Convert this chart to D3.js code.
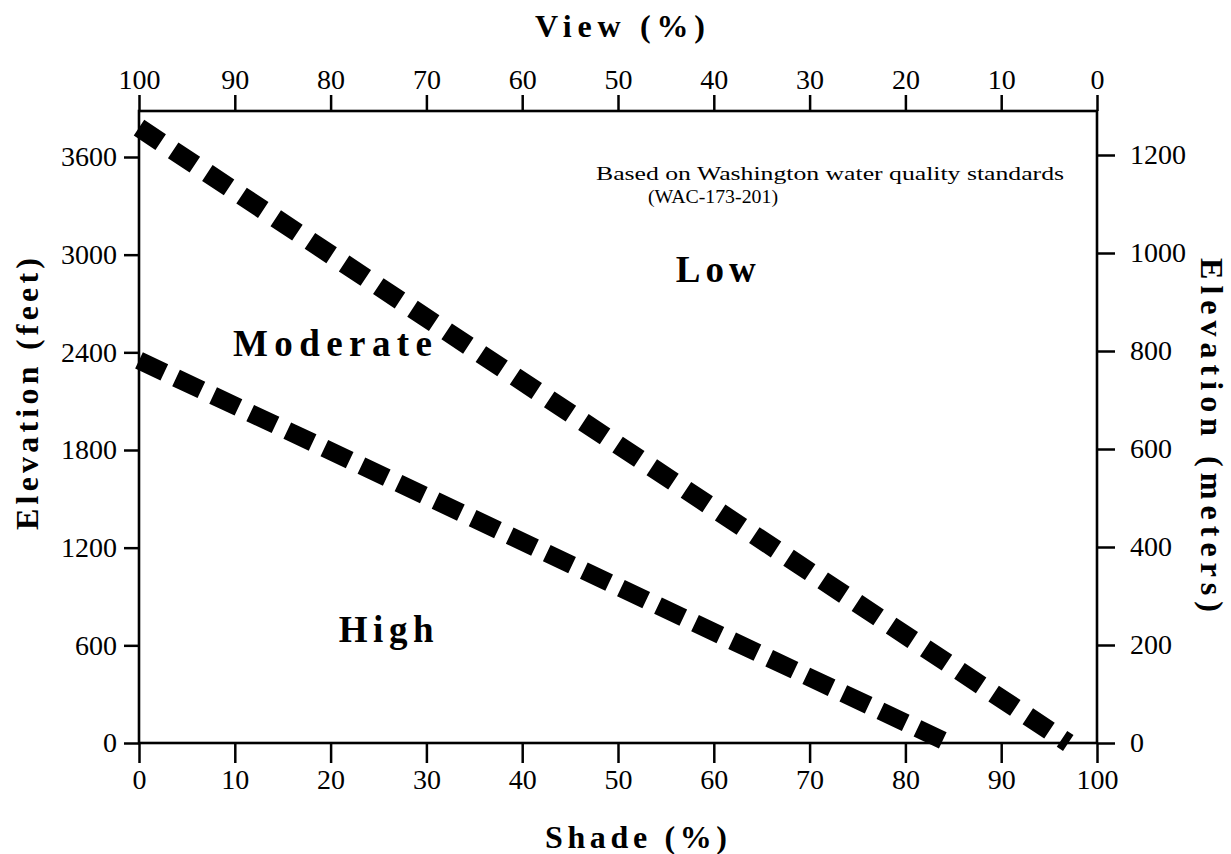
<!DOCTYPE html>
<html>
<head>
<meta charset="utf-8">
<script src="https://cdn.jsdelivr.net/npm/d3@7"></script>
<style>
  html, body { margin: 0; padding: 0; background: #fff; }
  svg { display: block; }
  text { font-family: "Liberation Serif", "Times New Roman", serif; fill: #000; }
</style>
</head>
<body>
<svg id="chart" width="1231" height="854"></svg>
<script>
// ---- data ----
const shadeTicks = [0, 10, 20, 30, 40, 50, 60, 70, 80, 90, 100];
const viewTicks = [100, 90, 80, 70, 60, 50, 40, 30, 20, 10, 0];
const feetTicks = [0, 600, 1200, 1800, 2400, 3000, 3600];
const meterTicks = [0, 200, 400, 600, 800, 1000, 1200];

// boundary between Low and Moderate (shade %, elevation ft)
const lowModShade = [0, 97];
const lowModFeet = [3780, 0];
// boundary between Moderate and High
const modHighShade = [0, 84.5];
const modHighFeet = [2350, 0];

const regionLabels = ["Low", "Moderate", "High"];
const regionShade = [60.2, 20.2, 25.8];
const regionFeet = [2830, 2380, 620];

const noteLines = ["Based on Washington water quality standards", "(WAC-173-201)"];

// ---- layout ----
const svg = d3.select("#chart");
const L = 139, R = 1097, T = 111, B = 743;

const x = d3.scaleLinear().domain([0, 100]).range([L, R]);
const xTop = d3.scaleLinear().domain([100, 0]).range([L, R]);
const yFt = d3.scaleLinear().domain([0, 3600]).range([B, 157]);
const yM = d3.scaleLinear().domain([0, 1200]).range([B, 155]);
const fmt = d3.format("d");

// frame
svg.append("rect")
  .attr("x", L).attr("y", T).attr("width", R - L).attr("height", B - T)
  .attr("fill", "none").attr("stroke", "#000").attr("stroke-width", 2.6);

function styleAxis(g) {
  g.select(".domain").remove();
  g.selectAll(".tick line").attr("stroke", "#000").attr("stroke-width", 2.5);
  g.selectAll(".tick text")
    .style("font-family", '"Liberation Serif", "Times New Roman", serif')
    .style("font-size", "28px").attr("fill", "#000");
}

// bottom axis (Shade)
svg.append("g").attr("transform", `translate(0,${B})`)
  .call(d3.axisBottom(x).tickValues(shadeTicks).tickFormat(fmt).tickSize(20).tickPadding(6).tickSizeOuter(0))
  .call(styleAxis);

// top axis (View)
svg.append("g").attr("transform", `translate(0,${T})`)
  .call(d3.axisTop(xTop).tickValues(viewTicks).tickFormat(fmt).tickSize(16).tickPadding(6).tickSizeOuter(0))
  .call(styleAxis);

// left axis (feet)
svg.append("g").attr("transform", `translate(${L},0)`)
  .call(d3.axisLeft(yFt).tickValues(feetTicks).tickFormat(fmt).tickSize(15).tickPadding(7).tickSizeOuter(0))
  .call(styleAxis);

// right axis (meters)
svg.append("g").attr("transform", `translate(${R},0)`)
  .call(d3.axisRight(yM).tickValues(meterTicks).tickFormat(fmt).tickSize(18).tickPadding(15).tickSizeOuter(0))
  .call(styleAxis);

// boundary lines
const line = d3.line().x(d => x(d[0])).y(d => yFt(d[1]));
svg.append("path")
  .datum(lowModShade.map((s, i) => [s, lowModFeet[i]]))
  .attr("d", line).attr("fill", "none").attr("stroke", "#000")
  .attr("stroke-width", 19).attr("stroke-dasharray", "26 15");
svg.append("path")
  .datum(modHighShade.map((s, i) => [s, modHighFeet[i]]))
  .attr("d", line).attr("fill", "none").attr("stroke", "#000")
  .attr("stroke-width", 18).attr("stroke-dasharray", "28 13");

// region labels
const labelLen = {"Low": 80, "Moderate": 199, "High": 95};
svg.selectAll("text.region").data(regionLabels).join("text")
  .attr("class", "region")
  .attr("x", (d, i) => x(regionShade[i]))
  .attr("y", (d, i) => yFt(regionFeet[i]))
  .attr("text-anchor", "middle")
  .style("font-size", "37px").style("font-weight", "bold")
  .attr("textLength", d => labelLen[d]).attr("lengthAdjust", "spacing")
  .text(d => d);

// note
svg.append("text").attr("x", 596).attr("y", 180)
  .style("font-size", "19px")
  .attr("textLength", 468).attr("lengthAdjust", "spacingAndGlyphs")
  .text(noteLines[0]);
svg.append("text").attr("x", 648).attr("y", 203)
  .style("font-size", "19px")
  .attr("textLength", 130).attr("lengthAdjust", "spacingAndGlyphs")
  .text(noteLines[1]);

// axis titles
svg.append("text").attr("x", 620).attr("y", 37).attr("text-anchor", "middle")
  .style("font-size", "32px").style("font-weight", "bold")
  .attr("textLength", 170).attr("lengthAdjust", "spacing")
  .text("View  (%)");
svg.append("text").attr("x", 636).attr("y", 848).attr("text-anchor", "middle")
  .style("font-size", "32px").style("font-weight", "bold")
  .attr("textLength", 182).attr("lengthAdjust", "spacing")
  .text("Shade  (%)");
svg.append("text")
  .attr("transform", "translate(38,394) rotate(-90)")
  .attr("text-anchor", "middle")
  .style("font-size", "32px").style("font-weight", "bold")
  .attr("textLength", 272).attr("lengthAdjust", "spacing")
  .text("Elevation  (feet)");
svg.append("text")
  .attr("transform", "translate(1201,435) rotate(90)")
  .attr("text-anchor", "middle")
  .style("font-size", "32px").style("font-weight", "bold")
  .attr("textLength", 354).attr("lengthAdjust", "spacing")
  .text("Elevation  (meters)");
</script>
</body>
</html>
